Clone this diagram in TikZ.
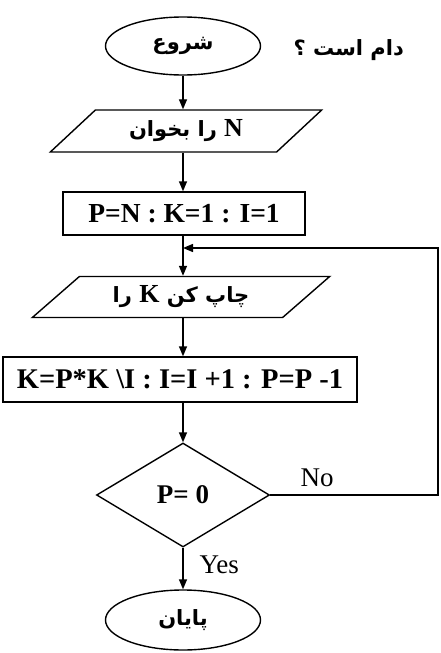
\documentclass[tikz,border=0pt]{standalone}
\usepackage{fontspec}
\usetikzlibrary{arrows.meta,shapes.geometric}
\setmainfont{Liberation Serif}
\newfontfamily\fa[Script=Arabic]{DejaVu Sans}
\TeXXeTstate=1
\newcommand{\latbig}{\rmfamily\fontsize{26}{30}\selectfont}
\tikzset{
  ln/.style={line width=1.4pt},
  arr/.style={ln,-{Triangle[length=10pt,width=8pt]}},
  term/.style={ellipse,draw,ln,inner sep=0pt,minimum width=155pt,minimum height=58pt},
  io/.style={trapezium,draw,ln,inner sep=0pt,trapezium stretches=true,trapezium left angle=38,trapezium right angle=142,minimum height=42pt},
  proc/.style={rectangle,draw,ln,inner sep=0pt,minimum height=43pt,font=\fontsize{27.5}{30}\selectfont\bfseries},
  dec/.style={diamond,draw,ln,inner sep=0pt,minimum width=173pt,minimum height=104pt,font=\fontsize{27}{30}\selectfont\bfseries},
  fatxt/.style={font=\fontsize{21}{24}\selectfont\fa\bfseries},
  lbl/.style={font=\fontsize{27}{30}\selectfont}
}
\begin{document}
\begin{tikzpicture}[x=1pt,y=-1pt]
\useasboundingbox[fill=white] (0,0) rectangle (441,653);
\node[term,fatxt] (start) at (183,46) {\beginR شروع\endR};
\node[fatxt,anchor=west] (title) at (290,50) {\beginR دام است ؟\endR};
\node[io,fatxt,minimum width=272pt] (read) at (186,131) {\beginR{\latbig N} را بخوان\endR};
\node[proc,minimum width=242pt] (init) at (184,213.5) {P=N : K=1 : I=1};
\node[io,fatxt,minimum width=298pt,trapezium left angle=35,trapezium right angle=145,minimum height=41pt] (print) at (181,297) {\beginR چاپ کن {\latbig K} را\endR};
\node[proc,minimum width=354pt,minimum height=45pt,font=\fontsize{28.5}{30}\selectfont\bfseries] (calc) at (180,379.5) {K=P*K \textbackslash I : I=I +1 : P=P -1};
\node[dec] (test) at (183,495) {P= 0};
\node[term,fatxt,minimum height=60pt] (stop) at (183,620) {\beginR پایان\endR};
\coordinate (join) at (183,248);
\coordinate (corner) at (438,495);
\draw[arr] (start.south) -- (start.south |- read.north);
\draw[arr] (start.south |- read.south) -- (start.south |- init.north);
\draw[ln] (start.south |- init.south) -- (join);
\draw[arr] (join) -- (join |- print.north);
\draw[arr] (join |- print.south) -- (join |- calc.north);
\draw[arr] (join |- calc.south) -- (test.north);
\draw[arr] (test.south) -- (stop.north);
\draw[arr] (test.east) -- (corner) -- (corner |- join) -- (join);
\node[lbl,anchor=south west] (no) at (297,490) {No};
\node[lbl,anchor=west] (yes) at (196,565) {Yes};
\end{tikzpicture}
\end{document}
